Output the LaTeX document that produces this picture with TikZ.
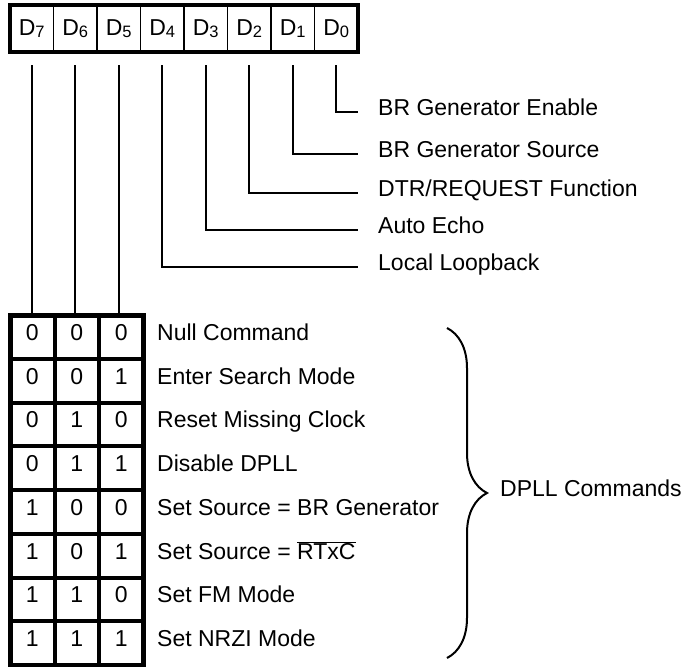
\documentclass[tikz,border=0pt]{standalone}
\usepackage{fontspec}
\setmainfont{Liberation Sans}
\usetikzlibrary{positioning, fit, decorations.pathreplacing}
\newcommand{\wrfont}{\fontsize{23}{27}\selectfont}
\newcommand{\regbit}[1]{D\raisebox{-1.5pt}{\fontsize{16.5}{16.5}\selectfont #1}}
\tikzset{
  wr/cell/.style   = {draw, line width=1.2pt, minimum width=43.5pt, minimum height=47pt,
                      inner sep=0pt, outer sep=0pt, font=\wrfont},
  wr/frame/.style  = {draw, line width=4.5pt, inner sep=0pt},
  wr/bit/.style    = {draw, line width=4pt, minimum width=44.5pt, minimum height=43.75pt,
                      inner sep=0pt, outer sep=0pt, font=\wrfont,
                      text height=0.72em, text depth=0pt},
  wr/label/.style  = {anchor=west, inner sep=0pt, font=\wrfont,
                      text height=0.72em, text depth=0pt},
  wr/wire/.style   = {line width=2pt},
  wr/brace/.style  = {line width=2pt, decorate, decoration={brace, amplitude=40pt}},
}

\begin{document}
\begin{tikzpicture}[x=1pt, y=-1pt]
  \useasboundingbox (0,0) rectangle (686,667);
  % --- Register D7..D0 ---
  \foreach \b [count=\i from 0] in {7,6,5,4,3,2,1,0}
    \node[wr/cell] (d\b) at (31.75+43.5*\i, 28.5) {\regbit{\b}};
  \node[wr/frame, fit=(d7)(d0)] (reg) {};
  % --- Single-bit functions ---
  \def\xLbl{378}
  \node[wr/label] (en)   at (\xLbl, 112) {BR Generator Enable};
  \node[wr/label] (src)  at (\xLbl, 154) {BR Generator Source};
  \node[wr/label] (dtr)  at (\xLbl, 193) {DTR/REQUEST Function};
  \node[wr/label] (echo) at (\xLbl, 230) {Auto Echo};
  \node[wr/label] (loop) at (\xLbl, 267) {Local Loopback};
  \foreach \b/\l in {0/en, 1/src, 2/dtr, 3/echo, 4/loop}
    \draw[wr/wire] ([yshift=-13pt]d\b.south) |- ([xshift=-20pt]\l.west);
  % --- Command table (D7 D6 D5) ---
  \def\yTab{315}
  \def\hRow{43.75}
  \foreach \a/\b/\c/\t [count=\r from 0] in {0/0/0/{Null Command},
      0/0/1/{Enter Search Mode}, 0/1/0/{Reset Missing Clock}, 0/1/1/{Disable DPLL},
      1/0/0/{Set Source = BR Generator}, 1/0/1/{Set Source = $\overline{\mbox{RTxC}}$},
      1/1/0/{Set FM Mode}, 1/1/1/{Set NRZI Mode}} {
    \node[wr/bit] (t\r-7) at (32.25, \yTab+\hRow/2+\hRow*\r) {\a};
    \node[wr/bit, right=0pt of t\r-7] (t\r-6) {\b};
    \node[wr/bit, right=0pt of t\r-6] (t\r-5) {\c};
    \node[wr/label] (cmd\r) at (157, \yTab+\hRow/2+\hRow*\r) {\t};
  }
  \node[wr/frame, line width=5pt, fit=(t0-7)(t7-5)] (tab) {};
  \foreach \b in {7,6,5}
    \draw[wr/wire] ([yshift=-13pt]d\b.south) -- (d\b.south |- tab.north);
  % --- Brace ---
  \coordinate (brTop) at (447, 328);
  \coordinate (brBot) at (447, 658);
  \draw[wr/brace] (brTop) -- (brBot);
  \node[wr/label] (dpll) at (500, 493) {DPLL Commands};
\end{tikzpicture}
\end{document}
